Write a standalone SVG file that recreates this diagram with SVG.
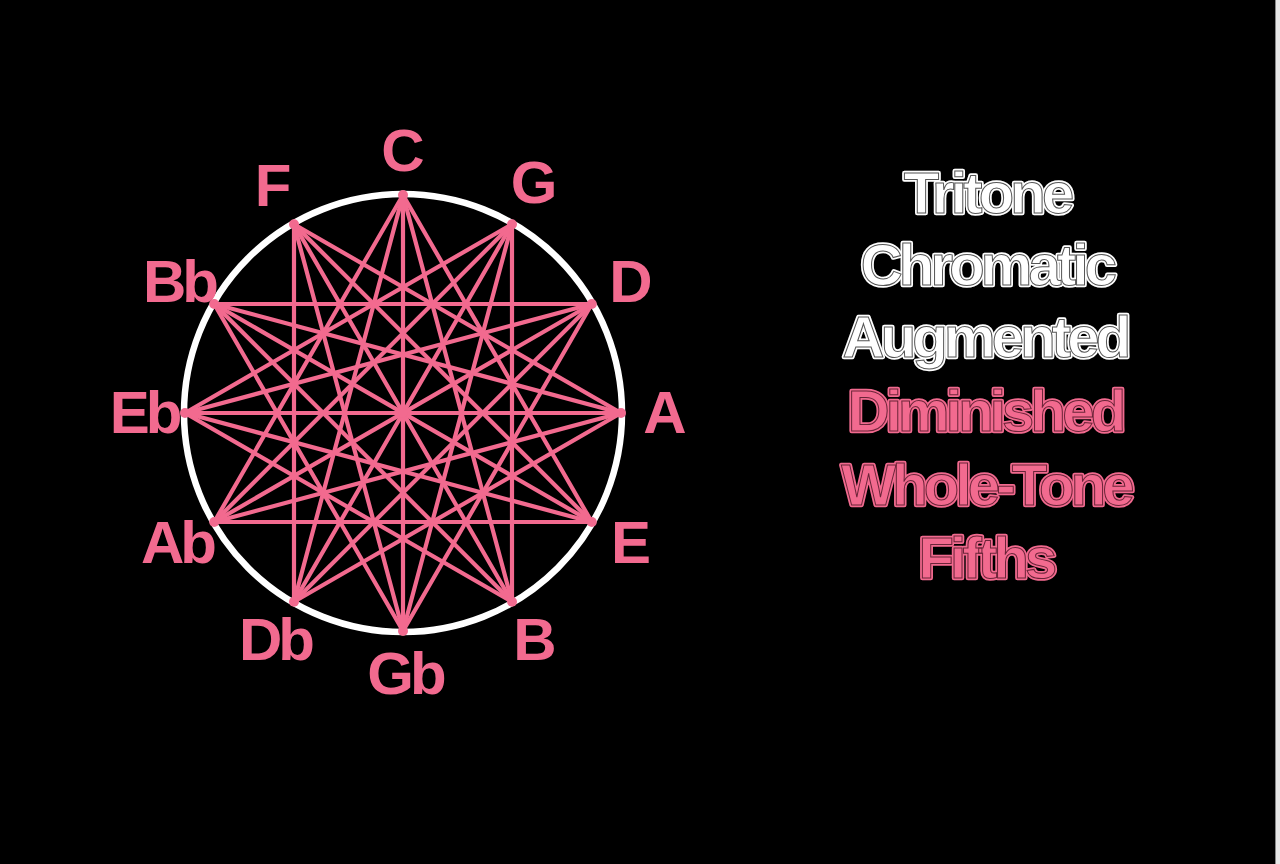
<svg xmlns="http://www.w3.org/2000/svg" width="1280" height="864" viewBox="0 0 1280 864">
<style>
.bg{fill:#000}
.ring{fill:none;stroke:#fff;stroke-width:6.5}
.ch{stroke:#f26a8f;stroke-width:4.2;stroke-linecap:round}
.dot{fill:#f26a8f}
.lbl{font-family:"Liberation Sans",Arial,sans-serif;font-weight:bold;font-size:60px;letter-spacing:-4px;fill:#f26a8f;text-anchor:middle}
.t{font-family:"Liberation Sans",Arial,sans-serif;font-weight:bold;font-size:58px;letter-spacing:-3.8px;text-anchor:middle}
.hw{fill:#fff;stroke:#fff;stroke-width:4.5;stroke-linejoin:round}
.fw{fill:#fff;stroke:#555;stroke-width:1}
.hp{fill:#f26a8f;stroke:#f26a8f;stroke-width:4.5;stroke-linejoin:round}
.fp{fill:#f26a8f;stroke:#6a2438;stroke-width:1}
</style>
<rect class="bg" x="0" y="0" width="1280" height="864"/>
<rect x="1275" y="0" width="5" height="864" fill="#e6e6e6"/>
<line x1="1275.5" y1="0" x2="1275.5" y2="864" stroke="#888" stroke-width="1"/>
<circle class="ring" cx="403" cy="413" r="219"/>
<g id="connectors">
<g id="step4">
<line class="ch" x1="403" y1="195" x2="591.8" y2="522"/>
<line class="ch" x1="512" y1="224.2" x2="512" y2="601.8"/>
<line class="ch" x1="591.8" y1="304" x2="403" y2="631"/>
<line class="ch" x1="621" y1="413" x2="294" y2="601.8"/>
<line class="ch" x1="591.8" y1="522" x2="214.2" y2="522"/>
<line class="ch" x1="512" y1="601.8" x2="185" y2="413"/>
<line class="ch" x1="403" y1="631" x2="214.2" y2="304"/>
<line class="ch" x1="294" y1="601.8" x2="294" y2="224.2"/>
<line class="ch" x1="214.2" y1="522" x2="403" y2="195"/>
<line class="ch" x1="185" y1="413" x2="512" y2="224.2"/>
<line class="ch" x1="214.2" y1="304" x2="591.8" y2="304"/>
<line class="ch" x1="294" y1="224.2" x2="621" y2="413"/>
</g>
<g id="step5">
<line class="ch" x1="403" y1="195" x2="512" y2="601.8"/>
<line class="ch" x1="512" y1="224.2" x2="403" y2="631"/>
<line class="ch" x1="591.8" y1="304" x2="294" y2="601.8"/>
<line class="ch" x1="621" y1="413" x2="214.2" y2="522"/>
<line class="ch" x1="591.8" y1="522" x2="185" y2="413"/>
<line class="ch" x1="512" y1="601.8" x2="214.2" y2="304"/>
<line class="ch" x1="403" y1="631" x2="294" y2="224.2"/>
<line class="ch" x1="294" y1="601.8" x2="403" y2="195"/>
<line class="ch" x1="214.2" y1="522" x2="512" y2="224.2"/>
<line class="ch" x1="185" y1="413" x2="591.8" y2="304"/>
<line class="ch" x1="214.2" y1="304" x2="621" y2="413"/>
<line class="ch" x1="294" y1="224.2" x2="591.8" y2="522"/>
</g>
<g id="step6">
<line class="ch" x1="403" y1="195" x2="403" y2="631"/>
<line class="ch" x1="512" y1="224.2" x2="294" y2="601.8"/>
<line class="ch" x1="591.8" y1="304" x2="214.2" y2="522"/>
<line class="ch" x1="621" y1="413" x2="185" y2="413"/>
<line class="ch" x1="591.8" y1="522" x2="214.2" y2="304"/>
<line class="ch" x1="512" y1="601.8" x2="294" y2="224.2"/>
</g>
</g>
<circle class="dot" cx="403" cy="413" r="4.5"/>
<g id="node-C"><circle class="dot" cx="403" cy="195" r="5"/><text class="lbl" x="401" y="171">C</text></g>
<g id="node-G"><circle class="dot" cx="512" cy="224.2" r="5"/><text class="lbl" x="532" y="203">G</text></g>
<g id="node-D"><circle class="dot" cx="591.8" cy="304" r="5"/><text class="lbl" x="629" y="302">D</text></g>
<g id="node-A"><circle class="dot" cx="621" cy="413" r="5"/><text class="lbl" x="663" y="433">A</text></g>
<g id="node-E"><circle class="dot" cx="591.8" cy="522" r="5"/><text class="lbl" x="629" y="563">E</text></g>
<g id="node-B"><circle class="dot" cx="512" cy="601.8" r="5"/><text class="lbl" x="533" y="660">B</text></g>
<g id="node-Gb"><circle class="dot" cx="403" cy="631" r="5"/><text class="lbl" x="405" y="694">Gb</text></g>
<g id="node-Db"><circle class="dot" cx="294" cy="601.8" r="5"/><text class="lbl" x="275" y="660">Db</text></g>
<g id="node-Ab"><circle class="dot" cx="214.2" cy="522" r="5"/><text class="lbl" x="177" y="563">Ab</text></g>
<g id="node-Eb"><circle class="dot" cx="185" cy="413" r="5"/><text class="lbl" x="144" y="433">Eb</text></g>
<g id="node-Bb"><circle class="dot" cx="214.2" cy="304" r="5"/><text class="lbl" x="179" y="302">Bb</text></g>
<g id="node-F"><circle class="dot" cx="294" cy="224.2" r="5"/><text class="lbl" x="271" y="206">F</text></g>
<g id="legend">
<g id="leg-tritone"><text class="t hw" x="987" y="213">Tritone</text><text class="t fw" x="987" y="213">Tritone</text></g>
<g id="leg-chromatic"><text class="t hw" x="987" y="285">Chromatic</text><text class="t fw" x="987" y="285">Chromatic</text></g>
<g id="leg-augmented"><text class="t hw" x="985" y="357">Augmented</text><text class="t fw" x="985" y="357">Augmented</text></g>
<g id="leg-diminished"><text class="t hp" x="985" y="431">Diminished</text><text class="t fp" x="985" y="431">Diminished</text></g>
<g id="leg-wholetone"><text class="t hp" x="986" y="505">Whole-Tone</text><text class="t fp" x="986" y="505">Whole-Tone</text></g>
<g id="leg-fifths"><text class="t hp" x="986" y="578">Fifths</text><text class="t fp" x="986" y="578">Fifths</text></g>
</g>
</svg>
